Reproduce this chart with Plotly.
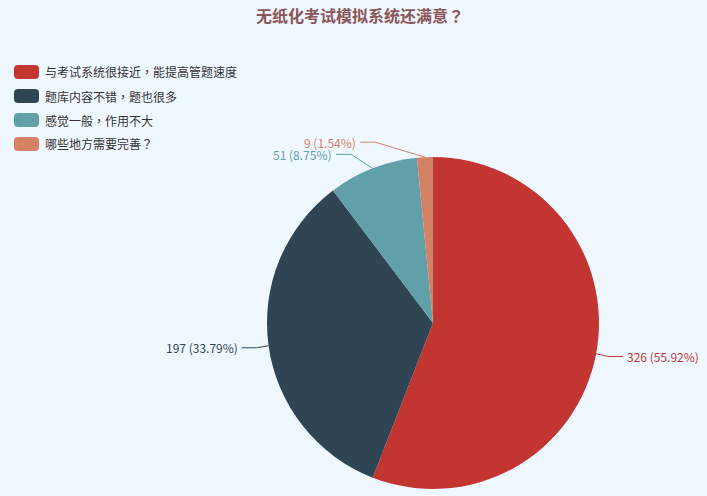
import math
import plotly.graph_objects as go

# ---- data ----
categories = ["与考试系统很接近，能提高管题速度", "题库内容不错，题也很多", "感觉一般，作用不大", "哪些地方需要完善？"]
counts = [326, 197, 51, 9]
colors = ["#c23531", "#2f4554", "#61a0a8", "#d48265"]
title_text = "无纸化考试模拟系统还满意？"

W, H = 707, 496
CX, CY, R = 433, 323, 166
LEN1, LEN2 = 15, 15
FONT = "Noto Sans CJK SC, Noto Sans, sans-serif"


def px(x):
    return x / W


def py(y):
    return 1 - y / H


def punct(s):
    # full-width punctuation drawn centred in its box (as in the reference)
    out = ""
    for ch in s:
        if ch in "，？":
            out += f"<span style='font-family:Noto Sans CJK TC'>{ch}</span>"
        else:
            out += ch
    return out


fig = go.Figure()
fig.add_trace(go.Pie(
    labels=categories, values=counts, sort=False, direction="clockwise", rotation=0,
    marker=dict(colors=colors, line=dict(width=0)),
    textinfo="none", hoverinfo="label+value+percent", showlegend=False,
    domain=dict(x=[px(CX - R), px(CX + R)], y=[py(CY + R), py(CY - R)]),
))

shapes = []
annotations = []

# leader lines + labels (ECharts-like layout computed from the values)
total = sum(counts)
cum = 0
for name, v, c in zip(categories, counts, colors):
    mid = (cum + v / 2) / total * 2 * math.pi
    cum += v
    dx, dy = math.sin(mid), -math.cos(mid)
    x1, y1 = CX + R * dx, CY + R * dy
    ly = CY + (R + LEN1) * dy
    dyabs = abs(ly - CY)
    rr = R + LEN1 + LEN2
    deltax = math.sqrt(max(rr * rr - dyabs * dyabs, 0))
    side = 1 if dx >= 0 else -1
    lx = CX + side * deltax
    x3 = lx - side * 3
    x2 = x3 - side * LEN2
    path = f"M {px(x1)},{py(y1)} L {px(x2)},{py(ly)} L {px(x3)},{py(ly)}"
    shapes.append(dict(type="path", path=path, xref="paper", yref="paper",
                       line=dict(color=c, width=1)))
    pct = v / total * 100
    annotations.append(dict(
        x=px(lx), y=py(ly), xref="paper", yref="paper", showarrow=False,
        text=f"{v} ({pct:.2f}%)", xanchor="left" if side > 0 else "right", yanchor="middle",
        font=dict(family=FONT, size=12, color=c), borderpad=0,
    ))

# legend (rounded markers)
for i, (name, c) in enumerate(zip(categories, colors)):
    yc = 72 + 24 * i
    x0, x1_, y0, y1_ = 14, 39, yc - 7, yc + 7
    rad = 4
    p = (f"M {px(x0 + rad)},{py(y0)} L {px(x1_ - rad)},{py(y0)} "
         f"Q {px(x1_)},{py(y0)} {px(x1_)},{py(y0 + rad)} L {px(x1_)},{py(y1_ - rad)} "
         f"Q {px(x1_)},{py(y1_)} {px(x1_ - rad)},{py(y1_)} L {px(x0 + rad)},{py(y1_)} "
         f"Q {px(x0)},{py(y1_)} {px(x0)},{py(y1_ - rad)} L {px(x0)},{py(y0 + rad)} "
         f"Q {px(x0)},{py(y0)} {px(x0 + rad)},{py(y0)} Z")
    shapes.append(dict(type="path", path=p, xref="paper", yref="paper",
                       fillcolor=c, line=dict(width=0)))
    annotations.append(dict(
        x=px(44), y=py(yc), xref="paper", yref="paper", showarrow=False,
        text=punct(name), xanchor="left", yanchor="middle", borderpad=0,
        font=dict(family=FONT, size=12, color="#333333"),
    ))

annotations.append(dict(
    x=px(360), y=py(15), xref="paper", yref="paper", showarrow=False,
    text=f"<b>{punct(title_text)}</b>", xanchor="center", yanchor="middle",
    font=dict(family=FONT, size=16, color="#8b5659"),
))

fig.update_layout(
    width=W, height=H, margin=dict(l=0, r=0, t=0, b=0),
    paper_bgcolor="#f0f8ff", plot_bgcolor="#f0f8ff",
    shapes=shapes, annotations=annotations, showlegend=False,
)

fig.write_html("out.html", config={"displayModeBar": False},
               post_script="document.body.style.margin='0';document.body.style.background='#f0f8ff';")
